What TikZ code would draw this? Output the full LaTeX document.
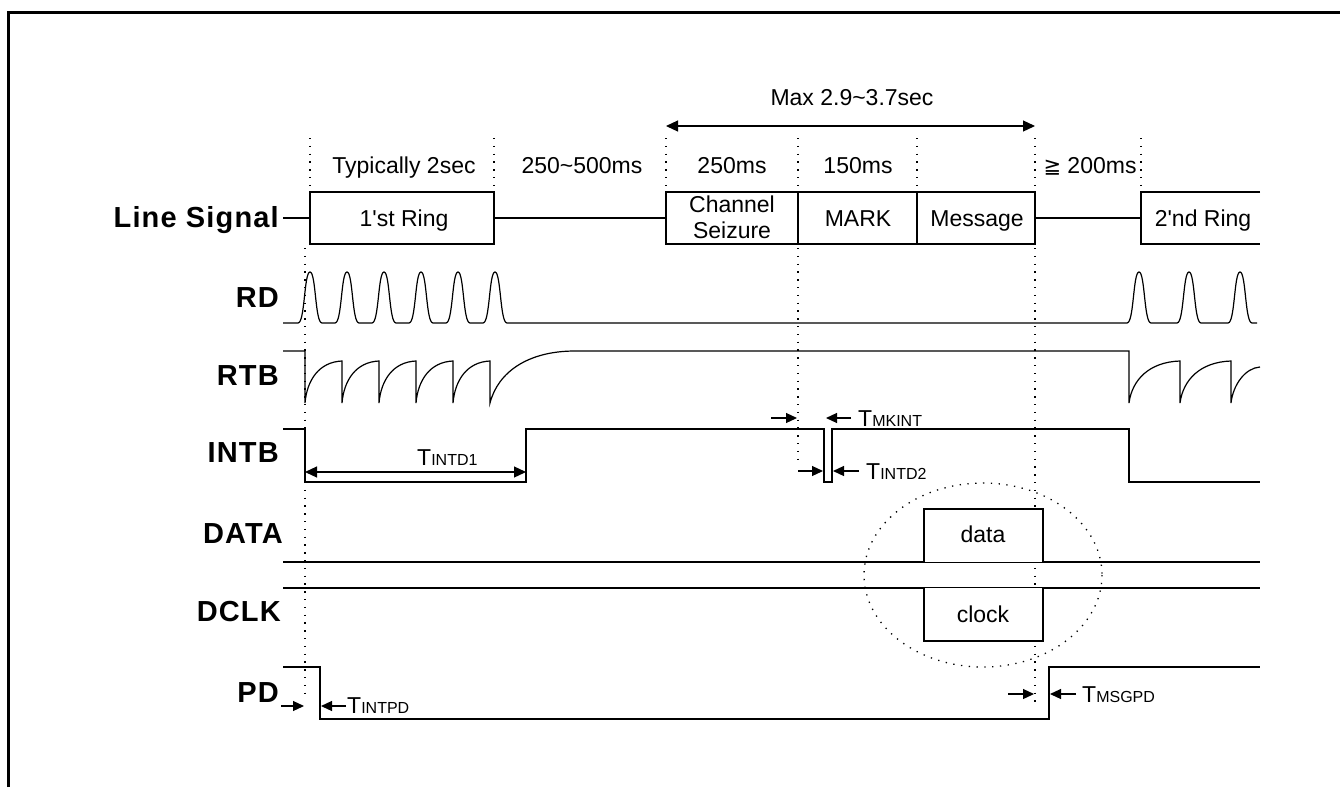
\documentclass[tikz,border=0pt]{standalone}
\usepackage{fontspec}
\setmainfont{Liberation Sans}
\newfontfamily\djv{DejaVu Sans}
\newfontfamily\lblfont[LetterSpace=4]{Liberation Sans}
\usetikzlibrary{arrows.meta}
\newcommand\tsub[1]{T{\fontsize{16}{18}\selectfont #1}}
\begin{document}
\begin{tikzpicture}[x=1pt,y=-1pt,
  sig/.style={line width=1.2pt, line join=miter},
  dotv/.style={line width=1.3pt, dash pattern=on 1.3pt off 6.5pt},
  lbl/.style={font=\lblfont\fontsize{29}{31}\selectfont\bfseries, anchor=base east, inner sep=0pt},
  txt/.style={font=\fontsize{23}{26}\selectfont, anchor=base, inner sep=0pt},
  ttxt/.style={font=\fontsize{23}{26}\selectfont, anchor=base west, inner sep=0pt},
  tip/.style={-{Triangle[length=11pt,width=10pt]}, line width=1.2pt},
  dtip/.style={{Triangle[length=12pt,width=11pt]}-{Triangle[length=12pt,width=11pt]}, line width=1.2pt}]
\useasboundingbox (0,0) rectangle (1340,787);
% frame
\draw[line width=3pt] (8,787) -- (8,12) -- (1340,12);

% dotted guide lines
\draw[dotv] (310,138) -- (310,192);
\draw[dotv] (494,138) -- (494,192);
\draw[dotv] (666,138) -- (666,192);
\draw[dotv] (798,138) -- (798,192);
\draw[dotv] (917,138) -- (917,192);
\draw[dotv] (1035,138) -- (1035,192);
\draw[dotv] (1141,138) -- (1141,192);
\draw[dotv] (305,248) -- (305,700);
\draw[dotv] (798,248) -- (798,462);
\draw[dotv] (1035,248) -- (1035,706);
\draw[dotv] (983,575) ellipse [x radius=119, y radius=92];

% signal names
\node[lbl] (nline) at (279,227) {Line Signal};
\node[lbl] (nrd) at (279,307) {RD};
\node[lbl] (nrtb) at (279,385) {RTB};
\node[lbl] (nintb) at (279,462) {INTB};
\node[lbl] (ndata) at (283,543) {DATA};
\node[lbl] (ndclk) at (281,621) {DCLK};
\node[lbl] (npd) at (279,702) {PD};

% top timing
\coordinate (mxa) at (666,126);
\coordinate (mxb) at (1035,126);
\draw[dtip] (mxa) -- (mxb);
\node[txt] (tmax) at (852,105) {Max 2.9\textasciitilde3.7sec};
\node[txt] (t1) at (404,173) {Typically 2sec};
\node[txt] (t2) at (582,173) {250\textasciitilde500ms};
\node[txt] (t3) at (732,173) {250ms};
\node[txt] (t4) at (858,173) {150ms};
\node[txt] (t5) at (1090,173) {{\djv\fontsize{21}{22}\selectfont ≧} 200ms};

% line signal
\draw[sig] (283,218) -- (310,218);
\draw[sig] (494,218) -- (666,218);
\draw[sig] (1035,218) -- (1141,218);
\draw[sig, fill=white] (310,192) rectangle (494,244);
\draw[sig, fill=white] (666,192) rectangle (798,244);
\draw[sig, fill=white] (798,192) rectangle (917,244);
\draw[sig, fill=white] (917,192) rectangle (1035,244);
\draw[sig] (1260,192) -- (1141,192) -- (1141,244) -- (1260,244);
\node[txt] (ring1) at (404,226) {1\textquotesingle st Ring};
\node[txt] (cs1) at (732,212) {Channel};
\node[txt] (cs2) at (732,238) {Seizure};
\node[txt] (mark) at (858,226) {MARK};
\node[txt] (msg) at (977,226) {Message};
\node[txt] (ring2) at (1203,226) {2\textquotesingle nd Ring};

% RD
\draw[sig] (283,323)
  \foreach \c in {310,347,384,421,458,495} {
    -- (\c-12,323) .. controls (\c-5,323) and (\c-6,272) .. (\c,272)
    .. controls (\c+6,272) and (\c+5,323) .. (\c+12,323) }
  \foreach \c in {1139,1189,1240} {
    -- (\c-12,323) .. controls (\c-5,323) and (\c-6,272) .. (\c,272)
    .. controls (\c+6,272) and (\c+5,323) .. (\c+12,323) }
  -- (1257,323);

% RTB
\draw[sig] (283,351) -- (305,351)
  \foreach \x in {305,342,379,416,453} {
    -- (\x,403) .. controls (\x+2,380) and (\x+14,362) .. (\x+37,361) }
  -- (490,403) .. controls (498,372) and (528,351) .. (575,351)
  -- (1129,351)
  \foreach \x in {1129,1180} {
    -- (\x,403) .. controls (\x+3,380) and (\x+20,362) .. (\x+51,361) }
  -- (1231,403) .. controls (1233,385) and (1245,368) .. (1260,367);

% INTB
\draw[sig] (283,429) -- (305,429) -- (305,482) -- (526,482) -- (526,429)
  -- (824,429) -- (824,482) -- (832,482) -- (832,429) -- (1129,429)
  -- (1129,482) -- (1260,482);
\coordinate (i1a) at (305,472);
\coordinate (i1b) at (526,472);
\draw[dtip] (i1a) -- (i1b);
\node[ttxt] (tintd1) at (417,465) {\tsub{INTD1}};
\coordinate (mk1) at (771,418);
\coordinate (mk2) at (797,418);
\coordinate (mk3) at (851,418);
\coordinate (mk4) at (826,418);
\draw[tip] (mk1) -- (mk2);
\draw[tip] (mk3) -- (mk4);
\node[ttxt] (tmkint) at (858,426) {\tsub{MKINT}};
\coordinate (d1) at (798,471);
\coordinate (d2) at (823,471);
\coordinate (d3) at (859,471);
\coordinate (d4) at (833,471);
\draw[tip] (d1) -- (d2);
\draw[tip] (d3) -- (d4);
\node[ttxt] (tintd2) at (866,479) {\tsub{INTD2}};

% DATA / DCLK
\draw[sig] (283,562) -- (1260,562);
\draw[sig] (283,588) -- (1260,588);
\draw[sig, fill=white] (924,562) -- (924,509) -- (1043,509) -- (1043,562);
\draw[sig, fill=white] (924,588) -- (924,641) -- (1043,641) -- (1043,588);
\node[txt] (data) at (983,542) {data};
\node[txt] (clock) at (983,622) {clock};

% PD
\draw[sig] (283,667) -- (320,667) -- (320,719) -- (1049,719) -- (1049,667) -- (1260,667);
\coordinate (p1) at (281,706);
\coordinate (p2) at (304,706);
\coordinate (p3) at (346,706);
\coordinate (p4) at (321,706);
\draw[tip] (p1) -- (p2);
\draw[tip] (p3) -- (p4);
\node[ttxt] (tintpd) at (347,713) {\tsub{INTPD}};
\coordinate (q1) at (1008,694);
\coordinate (q2) at (1034,694);
\coordinate (q3) at (1076,694);
\coordinate (q4) at (1050,694);
\draw[tip] (q1) -- (q2);
\draw[tip] (q3) -- (q4);
\node[ttxt] (tmsgpd) at (1082,702) {\tsub{MSGPD}};
\end{tikzpicture}
\end{document}
